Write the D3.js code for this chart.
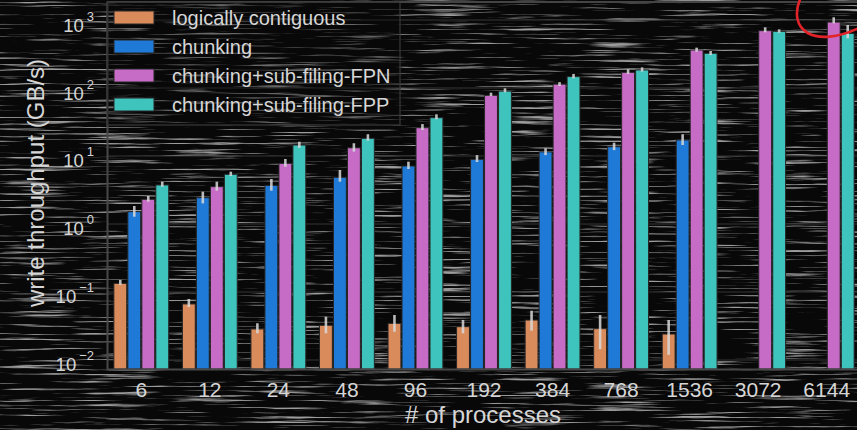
<!DOCTYPE html>
<html>
<head>
<meta charset="utf-8">
<script src="https://cdn.jsdelivr.net/npm/d3@7"></script>
<style>
  html, body { margin: 0; padding: 0; background: #080808; }
  svg { display: block; }
  text { font-family: "Liberation Sans", Arial, sans-serif; fill: #d6d6d6; }
</style>
</head>
<body>
<svg id="chart" width="857" height="430"></svg>
<script>
// Process counts on the x axis
const categories = ["6", "12", "24", "48", "96", "192", "384", "768", "1536", "3072", "6144"];

// Series names (legend order)
const seriesNames = ["logically contiguous", "chunking", "chunking+sub-filing-FPN", "chunking+sub-filing-FPP"];
const seriesColors = ["#d98b5c", "#1f79d6", "#c76cc6", "#3ec3bd"];

// Mean write throughput (GB/s); null = not measured
const contiguous = [0.134, 0.0667, 0.0286, 0.0324, 0.0346, 0.0309, 0.0387, 0.0289, 0.0241, null, null];
const chunking   = [1.52, 2.44, 3.7, 4.86, 7.13, 8.94, 11.5, 13.7, 17.2, null, null];
const fpn        = [2.31, 3.54, 7.8, 13.2, 26.1, 78, 114, 170, 362, 697, 933];
const fpp        = [3.75, 5.38, 14.5, 18.2, 36.6, 90, 147, 184, 324, 681, 635];

// Error bar ranges (low / high), GB/s
const contiguousLo = [0.127, 0.060, 0.0247, 0.0247, 0.026, 0.0247, 0.027, 0.0144, 0.0119, null, null];
const contiguousHi = [0.150, 0.079, 0.0347, 0.0433, 0.0459, 0.0388, 0.053, 0.0459, 0.0387, null, null];
const chunkingLo   = [1.28, 2.01, 3.09, 4.19, 6.44, 8.16, 10.3, 12.2, 14.5, null, null];
const chunkingHi   = [1.84, 2.99, 4.59, 6.22, 8.25, 10.3, 13.0, 15.7, 20.9, null, null];
const fpnLo        = [2.13, 3.09, 6.96, 11.6, 24.1, 76.3, 107, 161, 342, 659, 893];
const fpnHi        = [2.58, 4.19, 9.03, 15.4, 29.5, 85.3, 122, 188, 392, 780, 1097];
const fppLo        = [3.54, 5.08, 13.2, 16.8, 34.7, 86.5, 139, 174, 305, 650, 538];
const fppHi        = [4.19, 5.88, 16.2, 20.9, 41, 99, 161, 201, 350, 729, 844];

// Y tick exponents (powers of ten)
const yExponents = [-2, -1, 0, 1, 2, 3];

const seriesValues = [contiguous, chunking, fpn, fpp];
const seriesLo = [contiguousLo, chunkingLo, fpnLo, fppLo];
const seriesHi = [contiguousHi, chunkingHi, fpnHi, fppHi];

const svg = d3.select("#chart");
const W = 857, H = 430;
const plot = { left: 107, right: 861, top: 2, bottom: 369 };

// Scratched dark backdrop: stretched noise, thresholded into sparse light streaks
const defs = svg.append("defs");
const f = defs.append("filter").attr("id", "scratch")
  .attr("x", 0).attr("y", 0).attr("width", W).attr("height", H)
  .attr("filterUnits", "userSpaceOnUse");
f.append("feTurbulence").attr("type", "fractalNoise")
  .attr("baseFrequency", "0.012 0.42").attr("numOctaves", 4).attr("seed", 23);
f.append("feColorMatrix").attr("type", "matrix")
  .attr("values", "0 0 0 0 1  0 0 0 0 1  0 0 0 0 1  4.2 0 0 0 -2.35");

svg.append("rect").attr("width", W).attr("height", H).attr("fill", "#080808");
svg.append("rect").attr("width", W).attr("height", H)
  .attr("filter", "url(#scratch)").attr("opacity", 0.6);

// Scales
const x0 = d3.scaleBand().domain(categories)
  .range([plot.left, plot.right]).paddingInner(0.2).paddingOuter(0.1);
const x1 = d3.scaleBand().domain(d3.range(seriesNames.length))
  .range([0, x0.bandwidth()]).paddingInner(0.08);
const y = d3.scaleLog().domain([0.00737, 1840]).range([plot.bottom, plot.top]);

// Decade grid lines
svg.append("g").selectAll("line").data(yExponents).join("line")
  .attr("x1", plot.left).attr("x2", W)
  .attr("y1", d => y(Math.pow(10, d))).attr("y2", d => y(Math.pow(10, d)))
  .attr("stroke", "#363636").attr("stroke-width", 1);

// Frame top edge
svg.append("line").attr("x1", plot.left).attr("x2", W)
  .attr("y1", plot.top).attr("y2", plot.top)
  .attr("stroke", "#444").attr("stroke-width", 2);

// Bars
const groups = svg.append("g").selectAll("g").data(categories).join("g")
  .attr("transform", d => `translate(${x0(d)},0)`);

groups.each(function (cat, ci) {
  const g = d3.select(this);
  seriesValues.forEach((vals, si) => {
    const v = vals[ci];
    if (v == null) return;
    g.append("rect")
      .attr("x", x1(si)).attr("width", x1.bandwidth())
      .attr("y", y(v)).attr("height", plot.bottom - y(v))
      .attr("fill", seriesColors[si])
      .attr("stroke", "#262626").attr("stroke-width", 1);
  });
  seriesValues.forEach((vals, si) => {
    const lo = seriesLo[si][ci], hi = seriesHi[si][ci];
    if (lo == null) return;
    const cx = x1(si) + x1.bandwidth() / 2;
    g.append("line")
      .attr("x1", cx).attr("x2", cx)
      .attr("y1", y(hi)).attr("y2", y(lo))
      .attr("stroke", "#d8d8d8").attr("stroke-opacity", 0.85)
      .attr("stroke-width", 2.6);
  });
});

// X axis
const xAxis = svg.append("g")
  .attr("transform", `translate(0,${plot.bottom})`)
  .call(d3.axisBottom(x0).tickSize(0).tickPadding(13));
xAxis.select(".domain").attr("stroke", "#484848").attr("stroke-width", 2);
xAxis.selectAll("text").style("font-size", "21px")
  .style("font-family", "Liberation Sans, Arial, sans-serif").attr("fill", "#d6d6d6");

// Y axis with 10^n labels
const yAxis = svg.append("g")
  .attr("transform", `translate(${plot.left},0)`)
  .call(d3.axisLeft(y).tickValues(yExponents.map(e => Math.pow(10, e))).tickSize(0).tickFormat(""));
yAxis.select(".domain").attr("stroke", "#484848").attr("stroke-width", 2);
yAxis.selectAll(".tick").each(function (d) {
  const e = Math.round(Math.log10(d));
  const t = d3.select(this).select("text")
    .attr("x", -13).attr("dy", null).attr("y", 11)
    .attr("text-anchor", "end")
    .style("font-family", "Liberation Sans, Arial, sans-serif")
    .style("font-size", "18.5px").attr("fill", "#d6d6d6");
  t.text(null);
  t.append("tspan").text("10");
  t.append("tspan").attr("dx", 3).attr("dy", -11).style("font-size", "13px")
    .text(e < 0 ? "\u2212" + Math.abs(e) : String(e));
});

// Axis titles
svg.append("text")
  .attr("transform", `translate(44,183) rotate(-90)`)
  .attr("text-anchor", "middle").style("font-size", "24px")
  .text("write throughput (GB/s)");
svg.append("text")
  .attr("x", 483).attr("y", 423)
  .attr("text-anchor", "middle").style("font-size", "24px")
  .text("# of processes");

// Legend
const legend = svg.append("g");
legend.append("rect")
  .attr("x", plot.left).attr("y", plot.top).attr("width", 293).attr("height", 123)
  .attr("fill", "#0a0a0a").attr("fill-opacity", 0.35)
  .attr("stroke", "#3a3a3a").attr("stroke-width", 1.2);
seriesNames.forEach((name, i) => {
  const cy = 17.5 + i * 29;
  legend.append("rect")
    .attr("x", 114).attr("y", cy - 6.5).attr("width", 40).attr("height", 13)
    .attr("fill", seriesColors[i]).attr("stroke", "#262626").attr("stroke-width", 1);
  legend.append("text")
    .attr("x", 172).attr("y", cy + 7)
    .style("font-size", "20px")
    .text(name);
});

// Red hand-drawn highlight ring
svg.append("path")
  .attr("d", "M801,-3 C786,30 814,50 861,27")
  .attr("fill", "none").attr("stroke", "#e3232a").attr("stroke-width", 2.6)
  .attr("stroke-linecap", "round");
</script>
</body>
</html>
